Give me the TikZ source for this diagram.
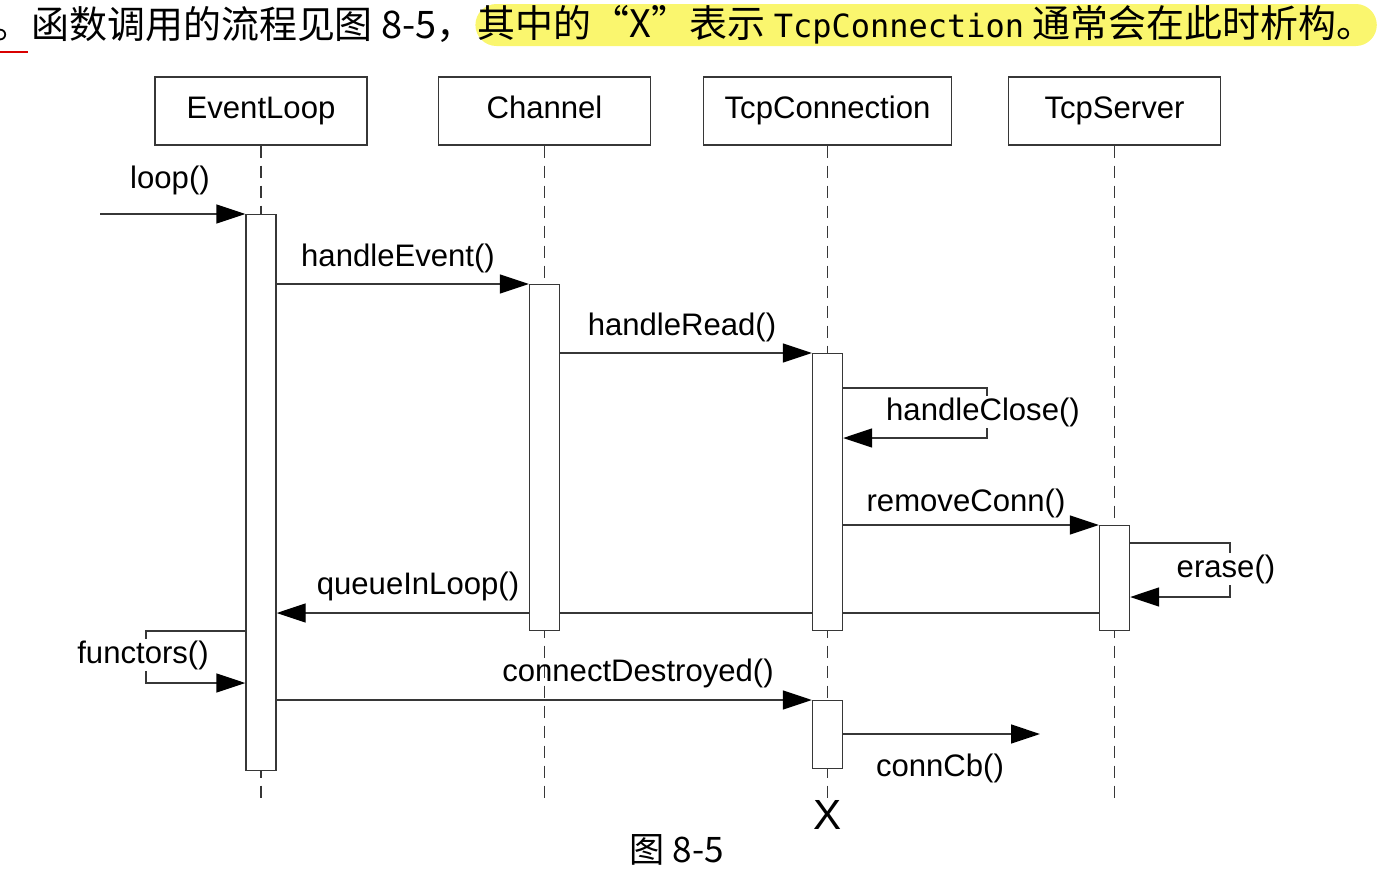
\documentclass[tikz,border=0pt]{standalone}
\usepackage{fontspec}
\setmainfont{Liberation Sans}
\newfontfamily\cjkfont{Noto Sans CJK SC}
\newfontfamily\codefont{DejaVu Sans Mono}
\usepackage{tikz}
\usetikzlibrary{arrows.meta}
\usetikzlibrary{positioning}
\definecolor{seqgray}{RGB}{55,55,55}
\definecolor{markyellow}{RGB}{250,246,110}
\pgfdeclarelayer{back}
\pgfsetlayers{back,main}
\tikzset{
  seqfont/.style={font=\fontsize{17.7}{20}\selectfont},
  headbox/.style={draw=seqgray, line width=0.8pt, minimum width=4.24cm,
    minimum height=1.36cm, text height=13pt, text depth=4pt, seqfont},
  lifeline/.style={draw=seqgray, line width=0.8pt, dash pattern=on 0.24cm off 0.16cm},
  actbar/.style={draw=seqgray, line width=0.8pt, fill=white, minimum width=0.6cm,
    inner sep=0pt, anchor=north},
  callarrow/.style={draw=seqgray, line width=0.8pt,
    -{Triangle[length=0.58cm,width=0.38cm,color=black]}},
  calllabel/.style={seqfont, inner sep=1pt},
  selflabel/.style={seqfont, inner sep=1pt, fill=white}
}
\begin{document}
\begin{tikzpicture}
\useasboundingbox (0,0) rectangle (27.96,-17.72);

\node (note-left) [anchor=west, inner sep=0pt, font=\cjkfont\fontsize{21.6}{24}\selectfont]
    at (-0.14,-0.5) {。函数调用的流程见图 8-5，};
\node (note-mark) [right=0pt of note-left, fill=markyellow, rounded corners=0.42cm,
    minimum height=0.84cm, inner xsep=0.05cm, inner ysep=0pt,
    font=\cjkfont\fontsize{21.6}{24}\selectfont]
    {其中的“X”表示 {\codefont\fontsize{18.2}{20}\selectfont TcpConnection} 通常会在此时析构。};
\draw[red!85!black, line width=1.2pt] (0,-1.04) -- (0.56,-1.04);

 \begin{scope}[xshift=5.22cm]
\node (evl-head) [headbox] at (0,-2.22) {EventLoop};
\node (evl-act) [actbar, minimum height=11.12cm] at (0,-4.28) {};
\begin{pgfonlayer}{back}
\draw[lifeline] (evl-head.south) -- (0,-16.0);
\end{pgfonlayer}
\end{scope}

 \begin{scope}[xshift=10.89cm]
\node (chn-head) [headbox] at (0,-2.22) {Channel};
\node (chn-act) [actbar, minimum height=6.92cm] at (0,-5.68) {};
\begin{pgfonlayer}{back}
\draw[lifeline] (chn-head.south) -- (0,-16.0);
\end{pgfonlayer}
\end{scope}

 \begin{scope}[xshift=16.55cm]
\node (tcp-head) [headbox, minimum width=4.96cm] at (0,-2.22) {TcpConnection};
\node (tcp-act1) [actbar, minimum height=5.54cm] at (0,-7.06) {};
\node (tcp-act2) [actbar, minimum height=1.36cm] at (0,-14.0) {};
\node (tcp-end) [font=\fontsize{24}{26}\selectfont, inner sep=0pt] at (0,-16.3) {X};
\begin{pgfonlayer}{back}
\draw[lifeline] (tcp-head.south) -- (tcp-end.north);
\end{pgfonlayer}
\end{scope}

 \begin{scope}[xshift=22.29cm]
\node (srv-head) [headbox] at (0,-2.22) {TcpServer};
\node (srv-act) [actbar, minimum height=2.1cm] at (0,-10.5) {};
\begin{pgfonlayer}{back}
\draw[lifeline] (srv-head.south) -- (0,-16.0);
\end{pgfonlayer}
\end{scope}

\coordinate (loop-start) at (2.0,-4.28);
\draw[callarrow] (loop-start) -- (evl-act.north west);
\node (loop-label) [calllabel] at (3.4,-3.6) {loop()};

\draw[callarrow] (evl-act.east |- chn-act.north) -- (chn-act.north west);
\node (event-label) [calllabel] at (7.96,-5.16) {handleEvent()};

\draw[callarrow] (chn-act.east |- tcp-act1.north) -- (tcp-act1.north west);
\node (read-label) [calllabel] at (13.64,-6.54) {handleRead()};

\draw[callarrow] (tcp-act1.east |- 0,-7.76) -- (19.74,-7.76) -- (19.74,-8.76)
    -- (tcp-act1.east |- 0,-8.76);
\node (close-label) [selflabel] at (19.66,-8.24) {handleClose()};

\draw[callarrow] (tcp-act1.east |- srv-act.north) -- (srv-act.north west);
\node (remove-label) [calllabel] at (19.32,-10.06) {removeConn()};

\draw[callarrow] (srv-act.east |- 0,-10.86) -- (24.6,-10.86) -- (24.6,-11.94)
    -- (srv-act.east |- 0,-11.94);
\node (erase-label) [selflabel] at (24.52,-11.38) {erase()};

\begin{pgfonlayer}{back}
\draw[callarrow] (srv-act.west |- 0,-12.26) -- (evl-act.east |- 0,-12.26);
\end{pgfonlayer}
\node (queue-label) [calllabel] at (8.36,-11.72) {queueInLoop()};

\draw[callarrow] (evl-act.west |- 0,-12.62) -- (2.92,-12.62) -- (2.92,-13.66)
    -- (evl-act.west |- 0,-13.66);
\node (functors-label) [selflabel] at (2.86,-13.1) {functors()};

\draw[callarrow] (evl-act.east |- tcp-act2.north) -- (tcp-act2.north west);
\node (destroy-label) [calllabel] at (12.76,-13.46) {connectDestroyed()};

\coordinate (conncb-end) at (20.8,-14.68);
\draw[callarrow] (tcp-act2.east |- conncb-end) -- (conncb-end);
\node (conncb-label) [calllabel] at (18.8,-15.36) {connCb()};

\node (fig-caption) [font=\cjkfont\fontsize{20}{22}\selectfont] at (13.54,-17.0) {图 8-5};
\end{tikzpicture}
\end{document}
